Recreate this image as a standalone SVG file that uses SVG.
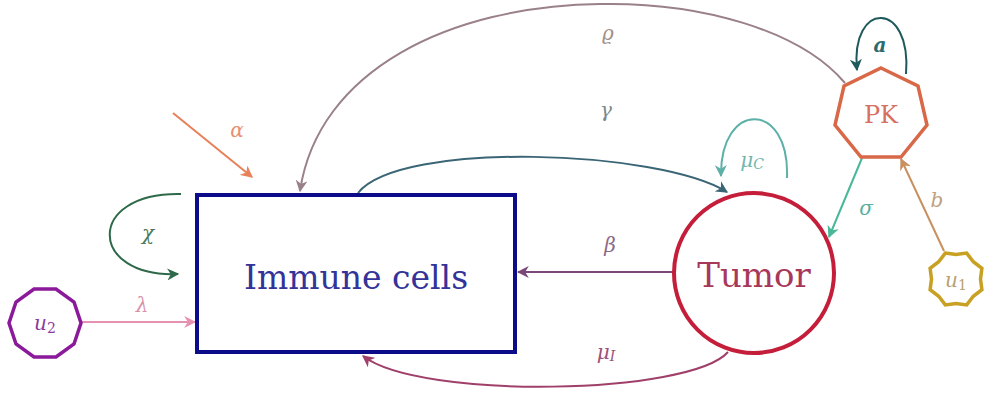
<svg xmlns="http://www.w3.org/2000/svg" width="991" height="396" viewBox="0 0 991 396">
<style>
text{text-anchor:middle;dominant-baseline:central;font-family:'DejaVu Serif',serif}
.lbl{font-style:italic;font-size:20px}
.edge{fill:none;stroke-width:2}
</style>
<defs>
<marker id="mA" viewBox="0 0 10 10" refX="9" refY="5" markerWidth="12" markerHeight="12" orient="auto" markerUnits="userSpaceOnUse"><path d="M0,0 L10,5 L0,10 L3,5 z" fill="#e88058"/></marker>
<marker id="mRho" viewBox="0 0 10 10" refX="9" refY="5" markerWidth="12" markerHeight="12" orient="auto" markerUnits="userSpaceOnUse"><path d="M0,0 L10,5 L0,10 L3,5 z" fill="#9a8088"/></marker>
<marker id="mG" viewBox="0 0 10 10" refX="9" refY="5" markerWidth="12" markerHeight="12" orient="auto" markerUnits="userSpaceOnUse"><path d="M0,0 L10,5 L0,10 L3,5 z" fill="#3a6575"/></marker>
<marker id="mMC" viewBox="0 0 10 10" refX="9" refY="5" markerWidth="12" markerHeight="12" orient="auto" markerUnits="userSpaceOnUse"><path d="M0,0 L10,5 L0,10 L3,5 z" fill="#5cb0a8"/></marker>
<marker id="mS" viewBox="0 0 10 10" refX="9" refY="5" markerWidth="12" markerHeight="12" orient="auto" markerUnits="userSpaceOnUse"><path d="M0,0 L10,5 L0,10 L3,5 z" fill="#48b898"/></marker>
<marker id="mB" viewBox="0 0 10 10" refX="9" refY="5" markerWidth="12" markerHeight="12" orient="auto" markerUnits="userSpaceOnUse"><path d="M0,0 L10,5 L0,10 L3,5 z" fill="#c89060"/></marker>
<marker id="ma" viewBox="0 0 10 10" refX="9" refY="5" markerWidth="12" markerHeight="12" orient="auto" markerUnits="userSpaceOnUse"><path d="M0,0 L10,5 L0,10 L3,5 z" fill="#1e5a5c"/></marker>
<marker id="mBeta" viewBox="0 0 10 10" refX="9" refY="5" markerWidth="12" markerHeight="12" orient="auto" markerUnits="userSpaceOnUse"><path d="M0,0 L10,5 L0,10 L3,5 z" fill="#7a4878"/></marker>
<marker id="mMI" viewBox="0 0 10 10" refX="9" refY="5" markerWidth="12" markerHeight="12" orient="auto" markerUnits="userSpaceOnUse"><path d="M0,0 L10,5 L0,10 L3,5 z" fill="#a0406a"/></marker>
<marker id="mL" viewBox="0 0 10 10" refX="9" refY="5" markerWidth="12" markerHeight="12" orient="auto" markerUnits="userSpaceOnUse"><path d="M0,0 L10,5 L0,10 L3,5 z" fill="#e890b0"/></marker>
<marker id="mX" viewBox="0 0 10 10" refX="9" refY="5" markerWidth="12" markerHeight="12" orient="auto" markerUnits="userSpaceOnUse"><path d="M0,0 L10,5 L0,10 L3,5 z" fill="#2e6a4a"/></marker>
</defs>
<rect width="991" height="396" fill="#ffffff"/>
<g id="connectors">
<path class="edge" d="M845,83 C800,30 700,2 600,4 C450,6 318,70 300,191" stroke="#9a8088" marker-end="url(#mRho)"/>
<path class="edge" d="M358,193 C400,140 660,150 727,192" stroke="#3a6575" marker-end="url(#mG)"/>
<path class="edge" d="M787,178 C790,100 720,100 721,176" stroke="#5cb0a8" marker-end="url(#mMC)"/>
<path class="edge" d="M862,158 L829,237" stroke="#48b898" marker-end="url(#mS)"/>
<path class="edge" d="M944,251 L901,159" stroke="#c89060" marker-end="url(#mB)"/>
<path class="edge" d="M906,74 C912,0 850,0 857,70" stroke="#1e5a5c" marker-end="url(#ma)"/>
<path class="edge" d="M673,272 L518,272" stroke="#7a4878" marker-end="url(#mBeta)"/>
<path class="edge" d="M728,352 C690,395 420,400 363,356" stroke="#a0406a" marker-end="url(#mMI)"/>
<path class="edge" d="M82,322 L195,322" stroke="#e890b0" marker-end="url(#mL)"/>
<path class="edge" d="M181,194 C85,192 88,278 178,274" stroke="#2e6a4a" marker-end="url(#mX)"/>
<path class="edge" d="M173,113 L252,177" stroke="#e88058" marker-end="url(#mA)"/>
<text class="lbl" x="608" y="33" fill="#a09088">ϱ</text>
<text class="lbl" x="606" y="110" fill="#7a8a8a">γ</text>
<text class="lbl" x="237" y="130" fill="#e89070">α</text>
<text class="lbl" x="148" y="233" fill="#4a7a5a">χ</text>
<text class="lbl" x="142" y="305" fill="#d890a8">λ</text>
<text class="lbl" x="752" y="160" fill="#70b8b0">μ<tspan font-size="14" dy="4">C</tspan></text>
<text class="lbl" x="866" y="208" fill="#58b0a0">σ</text>
<text class="lbl" x="937" y="200" fill="#c0a080">b</text>
<text class="lbl" x="880" y="45" fill="#2a6a70" font-weight="bold">a</text>
<text class="lbl" x="610" y="245" fill="#8a6a88">β</text>
<text class="lbl" x="606" y="352" fill="#a05078">μ<tspan font-size="14" dy="4">I</tspan></text>
</g>
<g id="immune">
<rect x="197" y="195" width="318" height="157" fill="none" stroke="#0c0c8a" stroke-width="4"/>
<text x="356" y="277" font-size="33" fill="#33339a">Immune cells</text>
</g>
<g id="tumor">
<circle cx="754" cy="273" r="80" fill="none" stroke="#c41e3a" stroke-width="4"/>
<text x="754" y="275" font-size="34" fill="#a8385a">Tumor</text>
</g>
<g id="pk">
<polygon points="881,68 918,86 927,125 901,157 861,157 835,125 844,86" fill="none" stroke="#d86848" stroke-width="3.5"/>
<text x="881" y="115" font-size="24" fill="#d87060">PK</text>
</g>
<g id="u1">
<polygon points="945.3,253.1 956,254.5 966.7,253.1 973.3,261.7 981.9,268.3 980.5,279 981.9,289.7 973.3,296.3 966.7,304.9 956,303.5 945.3,304.9 938.7,296.3 930.1,289.7 931.5,279 930.1,268.3 938.7,261.7" fill="none" stroke="#c8a022" stroke-width="3.5"/>
<text x="956" y="280" font-size="20" font-style="italic" fill="#b8a070">u<tspan font-size="14" font-style="normal" dy="5">1</tspan></text>
</g>
<g id="u2">
<polygon points="34,289 56,289 74,302 81,323 74,344 56,357 34,357 16,344 9,323 16,302" fill="none" stroke="#8b1a9b" stroke-width="3.5"/>
<text x="45" y="323" font-size="20" font-style="italic" fill="#8b3a9b">u<tspan font-size="14" font-style="normal" dy="5">2</tspan></text>
</g>
</svg>
